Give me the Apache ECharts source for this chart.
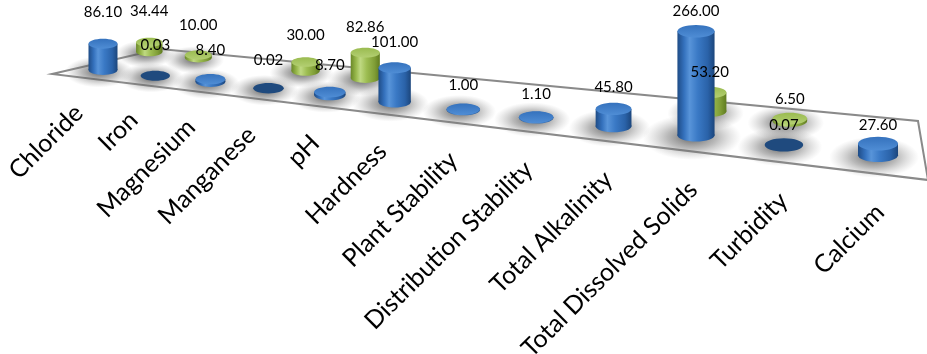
<!DOCTYPE html>
<html>
<head>
<meta charset="utf-8">
<script src="https://cdn.jsdelivr.net/npm/echarts@6/dist/echarts.min.js"></script>
<style>
  html, body { margin: 0; padding: 0; background: #ffffff; }
  #chart { width: 927px; height: 354px; }
</style>
</head>
<body>
<div id="chart"></div>
<script>
// Water quality parameters
const categories = ['Chloride', 'Iron', 'Magnesium', 'Manganese', 'pH', 'Hardness',
  'Plant Stability', 'Distribution Stability', 'Total Alkalinity',
  'Total Dissolved Solids', 'Turbidity', 'Calcium'];
// front row (blue)
const frontValues = [86.10, 0.03, 8.40, 0.02, 8.70, 101.00, 1.00, 1.10, 45.80, 266.00, 0.07, 27.60];
// back row (green); null = no column
const backValues = [null, 34.44, 10.00, null, 30.00, 82.86, null, null, null, 53.20, 6.50, null];

// ---- pseudo-3D view settings ----
const VIEW = {
  persp: 0.276,          // foreshortening along the category direction
  floorSlope: 0.11,      // how much the row baseline drops per px to the right
  depthY: -24,           // screen shift from front row to back row
  depthX: [[0, 0], [0.45, -30], [0.78, 17], [1, -2]],
  baseWidth: 29, widthGain: 11, backShrink: 0.9,
  refWidth: 38,          // column width at which the value axis scale applies 1:1
  aspect: 0.17,          // ellipse ry / column width
  labelLift: 32, labelLiftDrop: 14,
  catDx: -24, catDxGain: 26, catDy: 39, catDyGain: 14, catAngle: 45
};

function warp(t) { return t * (1 - VIEW.persp) / (1 - VIEW.persp * t); }
function interp(knots, u) {
  if (u <= knots[0][0]) return knots[0][1];
  for (let k = 1; k < knots.length; k++) {
    if (u <= knots[k][0]) {
      const a = knots[k - 1], b = knots[k];
      return a[1] + (b[1] - a[1]) * (u - a[0]) / (b[0] - a[0]);
    }
  }
  return knots[knots.length - 1][1];
}
// screen placement of a column foot, from the category axis position
function place(params, api, idx, row) {
  const cs = params.coordSys;
  const lin = api.coord([idx, 0]);
  const t = (lin[0] - cs.x) / cs.width;
  const xf = cs.x + cs.width * warp(t);
  const yf = lin[1] + VIEW.floorSlope * (xf - cs.x);
  const w = VIEW.baseWidth + VIEW.widthGain * Math.pow(Math.max(t, 0), 1.5);
  if (row === 0) return { x: xf, y: yf, w: w, t: t };
  return { x: xf + interp(VIEW.depthX, t), y: yf + VIEW.depthY, w: w * VIEW.backShrink, t: t };
}
function columnHeight(api, val, w) {
  return Math.abs(api.size([0, val])[1]) * w / VIEW.refWidth;
}

const PALETTES = [
  { // blue
    body: ['#1f4c86', '#3471bd', '#5894d9', '#3a79c5', '#2a62a8', '#1c467c'],
    top: ['#4f8dd5', '#3572bd'],
    flat: '#1f4a7e'
  },
  { // green
    body: ['#6a8828', '#98b84c', '#bfd982', '#9dbd52', '#7f9d36', '#607c20'],
    top: ['#b3cf72', '#9abb50'],
    flat: '#8fae45'
  }
];
function hGrad(cols) {
  const n = cols.length;
  return { type: 'linear', x: 0, y: 0, x2: 1, y2: 0,
    colorStops: [0, 0.18, 0.33, 0.55, 0.82, 1].slice(0, n).map((o, k) => ({ offset: o, color: cols[k] })) };
}

function rowData(values, row) {
  return values.map((v, i) => (v == null ? null : [i, v, row])).filter(Boolean);
}
const frontData = rowData(frontValues, 0);
const backData = rowData(backValues, 1);

function renderShadow(params, api) {
  const row = api.value(2);
  const p = place(params, api, api.value(0), row);
  const h = columnHeight(api, api.value(1), p.w);
  const rx = p.w * 1.1 + h * 0.08;
  const ry = p.w * 0.5 + h * 0.04;
  return {
    type: 'circle', silent: true,
    x: p.x - 4, y: p.y + 2, scaleX: rx / ry,
    shape: { cx: 0, cy: 0, r: ry },
    style: { fill: { type: 'radial', x: 0.5, y: 0.5, r: 0.5, colorStops: [
      { offset: 0, color: 'rgba(60,60,60,0.8)' },
      { offset: 0.5, color: 'rgba(100,100,100,0.45)' },
      { offset: 1, color: 'rgba(150,150,150,0)' }] } }
  };
}

function renderColumn(params, api) {
  const idx = api.value(0), val = api.value(1), row = api.value(2);
  const pal = PALETTES[row];
  const p = place(params, api, idx, row);
  const h = columnHeight(api, val, p.w);
  const rx = p.w / 2, ry = p.w * VIEW.aspect;
  const top = p.y - h;
  const children = [];
  if (h < 0.1) {
    children.push({ type: 'ellipse', shape: { cx: p.x, cy: p.y, rx: rx, ry: ry }, style: { fill: pal.flat } });
    return { type: 'group', children: children };
  }
  const body = hGrad(pal.body);
  children.push({ type: 'ellipse', shape: { cx: p.x, cy: p.y, rx: rx, ry: ry }, style: { fill: body } });
  children.push({ type: 'rect', shape: { x: p.x - rx, y: top, width: rx * 2, height: h }, style: { fill: body } });
  children.push({ type: 'ellipse', shape: { cx: p.x, cy: top, rx: rx, ry: ry },
    style: { fill: { type: 'linear', x: 0, y: 0, x2: 0, y2: 1,
      colorStops: [{ offset: 0, color: pal.top[1] }, { offset: 1, color: pal.top[0] }] } } });
  return { type: 'group', children: children };
}

function renderValueLabel(params, api) {
  const idx = api.value(0), val = api.value(1), row = api.value(2);
  const p = place(params, api, idx, row);
  const h = columnHeight(api, val, p.w);
  const lift = VIEW.labelLift - VIEW.labelLiftDrop * p.t;
  return {
    type: 'text', x: p.x, y: p.y - h - lift,
    style: { text: val.toFixed(2), font: '15px Lato', fill: '#000', align: 'center', verticalAlign: 'middle' }
  };
}

function renderCategory(params, api) {
  const i = api.value(0);
  const p = place(params, api, i, 0);
  return {
    type: 'text',
    x: p.x + VIEW.catDx + VIEW.catDxGain * p.t,
    y: p.y + VIEW.catDy + VIEW.catDyGain * p.t,
    rotation: VIEW.catAngle * Math.PI / 180,
    style: { text: categories[i], font: '25px Lato', fill: '#000', align: 'right', verticalAlign: 'middle' }
  };
}

const chart = echarts.init(document.getElementById('chart'));
chart.setOption({
  animation: false,
  backgroundColor: '#ffffff',
  grid: { left: 103, right: 49, top: 0, height: 70 },
  xAxis: { type: 'category', data: categories, boundaryGap: false, show: false },
  yAxis: { type: 'value', min: 0, max: 175, show: false },
  graphic: [{
    type: 'polygon', z: -10, silent: true,
    shape: { points: [[52, 74], [160, 49], [918, 121], [928, 180]] },
    style: { fill: '#ffffff', stroke: '#8a8a8a', lineWidth: 2 }
  }],
  series: [
    { type: 'custom', name: 'shadows', z: 1, data: backData.concat(frontData), renderItem: renderShadow },
    { type: 'custom', name: 'Series2', z: 2, data: backData, renderItem: renderColumn },
    { type: 'custom', name: 'Series1', z: 3, data: frontData, renderItem: renderColumn },
    { type: 'custom', name: 'values', z: 4, data: backData.concat(frontData), renderItem: renderValueLabel },
    { type: 'custom', name: 'categories', z: 4, data: categories.map((c, i) => [i, 0]), renderItem: renderCategory }
  ]
});
</script>
</body>
</html>
